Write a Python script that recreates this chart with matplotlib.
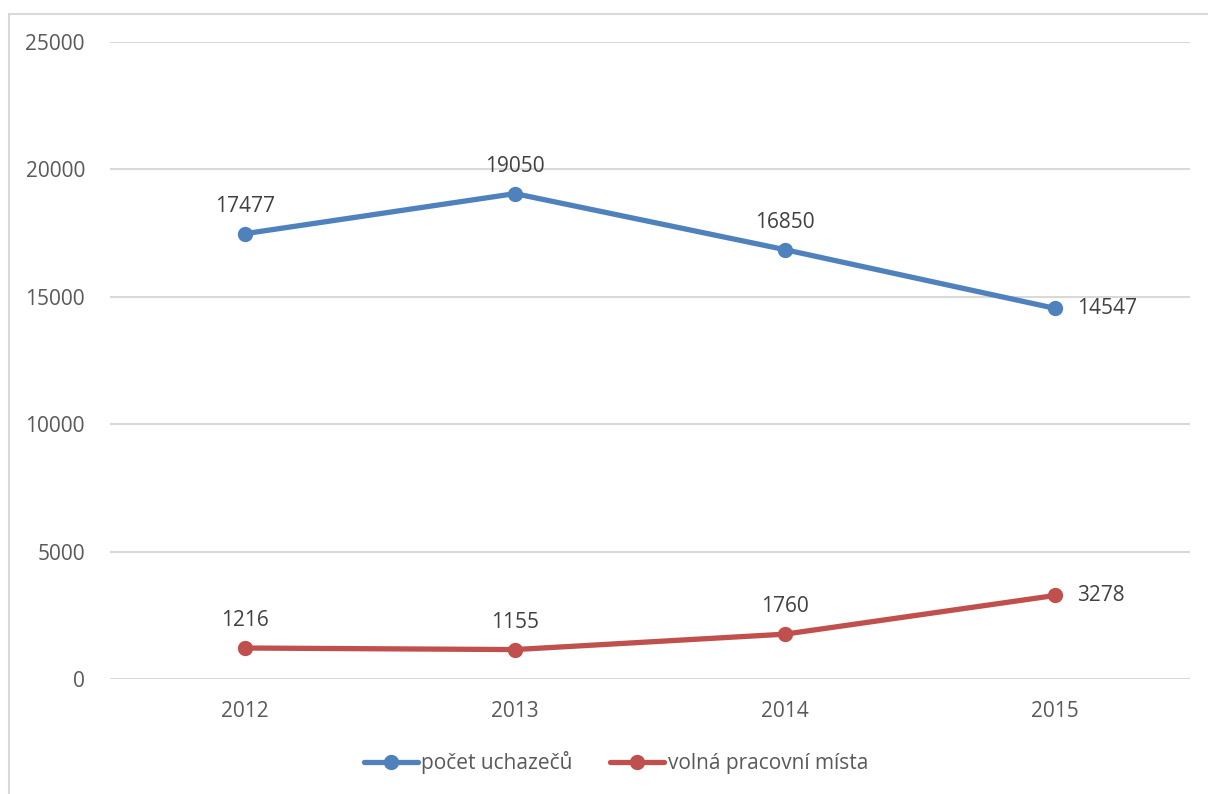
import matplotlib.pyplot as plt
from matplotlib.patches import Rectangle

years = ['2012', '2013', '2014', '2015']
uchazeci = [17477, 19050, 16850, 14547]
mista = [1216, 1155, 1760, 3278]
series_names = ['počet uchazečů', 'volná pracovní místa']
colors = ['#4f81bd', '#c0504d']

plt.rcParams['font.family'] = ['Open Sans', 'DejaVu Sans']
text_color = '#595959'

fig = plt.figure(figsize=(12.08, 7.94), dpi=100)
ax = fig.add_axes([110 / 1208, 115 / 794, 1080 / 1208, 637 / 794])

# outer chart frame (left and top visible only)
fig.patches.append(Rectangle((9 / 1208, -0.1), 1.2, (794 - 14) / 794 + 0.1,
                             transform=fig.transFigure, fill=False,
                             edgecolor='#d9d9d9', linewidth=1.5))

x = range(len(years))
for vals, name, c in zip([uchazeci, mista], series_names, colors):
    ax.plot(x, vals, color=c, linewidth=3.8, marker='o', markersize=10,
            solid_capstyle='round', label=name, zorder=3)

for series in [uchazeci, mista]:
    for i, v in enumerate(series):
        if i == len(series) - 1:
            ax.annotate(f'{v}', (i, v), xytext=(16, 0), textcoords='offset points',
                        ha='left', va='center', fontsize=15, color='#404040')
        else:
            ax.annotate(f'{v}', (i, v), xytext=(0, 12), textcoords='offset points',
                        ha='center', va='bottom', fontsize=15, color='#404040')

ax.set_xlim(-0.5, len(years) - 0.5)
ax.set_ylim(0, 25000)
ax.set_yticks(range(0, 25001, 5000))
ax.set_xticks(list(x))
ax.set_xticklabels(years)
ax.tick_params(length=0, labelsize=15, colors=text_color)
ax.tick_params(axis='y', pad=18)
ax.tick_params(axis='x', pad=16)
ax.grid(axis='y', color='#d9d9d9', linewidth=1.5)
ax.set_axisbelow(True)
for s in ax.spines.values():
    s.set_visible(False)

leg = fig.legend(loc='center', bbox_to_anchor=(616 / 1208, 1 - 763 / 794), ncol=2,
                 frameon=False, fontsize=15, handlelength=2.6, columnspacing=1.8,
                 handletextpad=0.15)
for t in leg.get_texts():
    t.set_color(text_color)

fig.savefig('out.png', dpi=100)
